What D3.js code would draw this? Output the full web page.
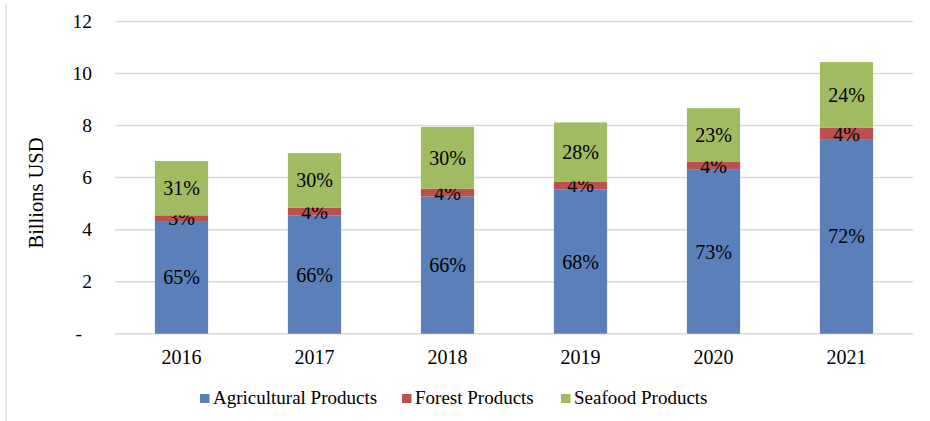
<!DOCTYPE html>
<html><head><meta charset="utf-8">
<script src="https://cdn.jsdelivr.net/npm/d3@7"></script>
<style>body{margin:0;background:#fff}svg{display:block}</style>
</head><body>
<svg id="c" width="930" height="421"></svg>
<script>
const years = ["2016","2017","2018","2019","2020","2021"];
const agricultural = [4.33, 4.54, 5.27, 5.55, 6.30, 7.48];
const forest = [0.22, 0.31, 0.30, 0.30, 0.32, 0.43];
const seafood = [2.09, 2.09, 2.38, 2.27, 2.05, 2.53];
const agriLabels = ["65%","66%","66%","68%","73%","72%"];
const forestLabels = ["3%","4%","4%","4%","4%","4%"];
const seafoodLabels = ["31%","30%","30%","28%","23%","24%"];
const seriesNames = ["Agricultural Products","Forest Products","Seafood Products"];
const yTicks = [0,2,4,6,8,10,12];

const colors = ["#5b80b9","#b9524f","#a0bb62"];
const font = "'Liberation Serif','Times New Roman',serif";
const svg = d3.select("#c");

// left border line
svg.append("line").attr("x1",6).attr("x2",6).attr("y1",4).attr("y2",421)
  .attr("stroke","#d0d0d0").attr("stroke-width",1);

const x = d3.scaleBand().domain(years).range([115,913]).paddingInner(0.6).paddingOuter(0.3);
const y = d3.scaleLinear().domain([0,12]).range([333.7,21.5]);

// gridlines
svg.append("g").selectAll("line").data(yTicks).join("line")
  .attr("x1",115).attr("x2",913)
  .attr("y1",d=>y(d)).attr("y2",d=>y(d))
  .attr("stroke","#d9d9d9").attr("stroke-width",1.5);

// y axis labels
const yAxis = d3.axisLeft(y).tickValues(yTicks).tickSize(0).tickPadding(0)
  .tickFormat(d=> d===0 ? "-" : d);
const gy = svg.append("g").attr("transform","translate(92,0)").call(yAxis);
gy.select(".domain").remove();
gy.selectAll("text").attr("font-family",font).attr("font-size",19.5).attr("fill","#000")
  .attr("dx",d=>d===0?-10:0);

// y title
svg.append("text").attr("transform","translate(43,193) rotate(-90)")
  .attr("text-anchor","middle").attr("font-family",font).attr("font-size",20.5)
  .attr("fill","#000").text("Billions USD");

// stacked data
const rows = years.map((yr,i)=>({year:yr, a:agricultural[i], f:forest[i], s:seafood[i]}));
const stack = d3.stack().keys(["a","f","s"])(rows);
const labels = [agriLabels, forestLabels, seafoodLabels];

stack.forEach((layer,k)=>{
  const g = svg.append("g");
  g.selectAll("rect").data(layer).join("rect")
    .attr("x",d=>x(d.data.year)).attr("width",x.bandwidth())
    .attr("y",d=>y(d[1])).attr("height",d=>y(d[0])-y(d[1]))
    .attr("fill",colors[k]);
  g.selectAll("text").data(layer).join("text")
    .attr("x",d=>x(d.data.year)+x.bandwidth()/2)
    .attr("y",d=>(y(d[0])+y(d[1]))/2)
    .attr("dy","0.35em").attr("text-anchor","middle")
    .attr("font-family",font).attr("font-size",20).attr("fill","#000")
    .text((d,i)=>labels[k][i]);
});

// x axis labels
const xAxis = d3.axisBottom(x).tickSize(0).tickPadding(0);
const gx = svg.append("g").attr("transform","translate(0,350)").call(xAxis);
gx.select(".domain").remove();
gx.selectAll("text").attr("font-family",font).attr("font-size",20).attr("fill","#000").attr("dy","0.71em");

// legend
const legendX = [200, 402, 561];
const lg = svg.append("g");
seriesNames.forEach((n,i)=>{
  lg.append("rect").attr("x",legendX[i]).attr("y",394).attr("width",9.5).attr("height",9).attr("fill",colors[i]);
  lg.append("text").attr("x",legendX[i]+13).attr("y",403.5)
    .attr("font-family",font).attr("font-size",19).attr("fill","#000").text(n);
});
</script>
</body></html>
